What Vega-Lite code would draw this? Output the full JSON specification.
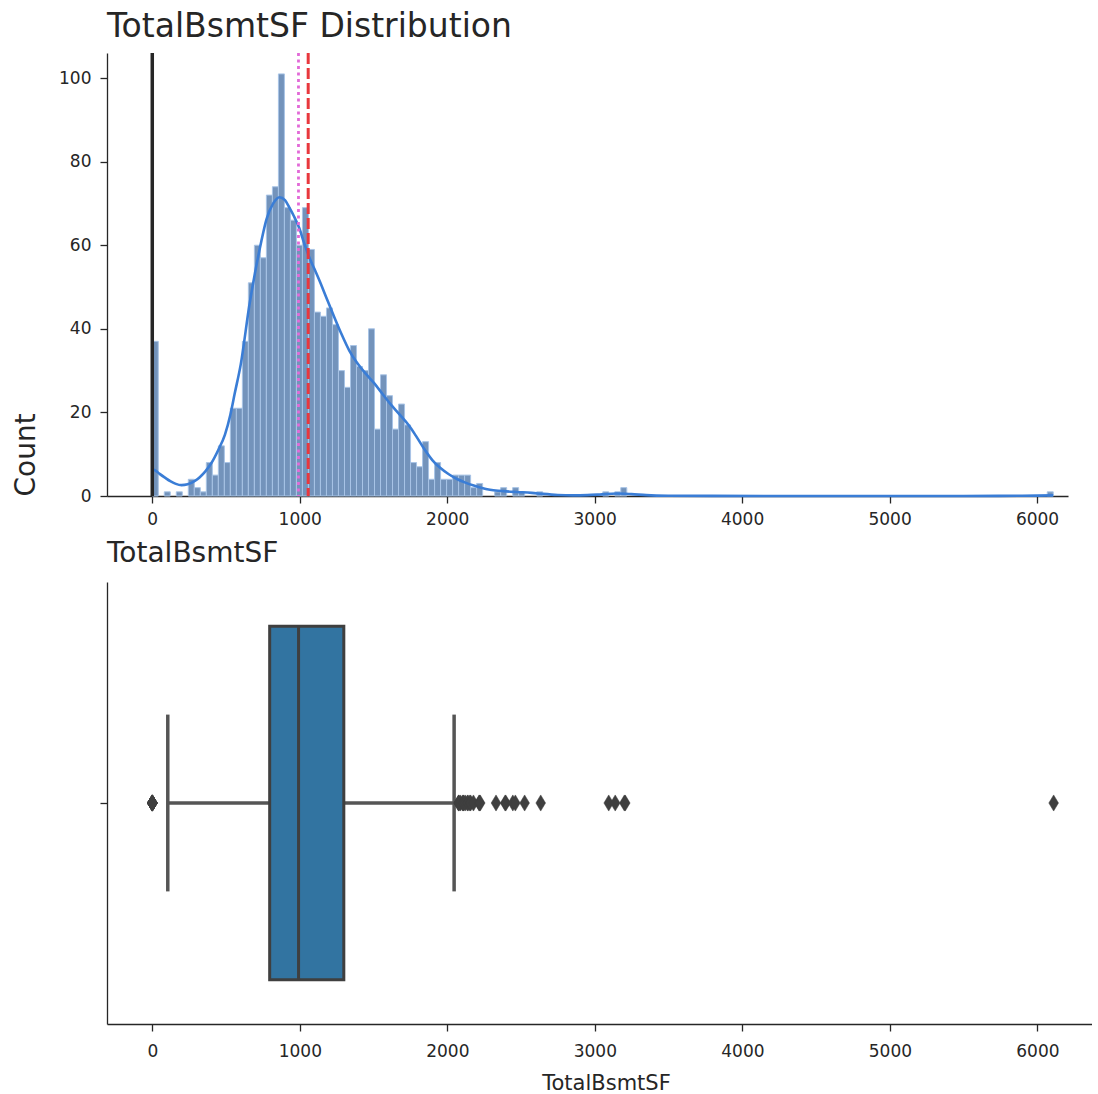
{
  "$schema": "https://vega.github.io/schema/vega-lite/v6.json",
  "background": "white",
  "padding": {"left": 12, "top": 11, "right": 0, "bottom": 0},
  "spacing": 13,
  "config": {
    "view": {"stroke": null},
    "font": "DejaVu Sans",
    "axis": {
      "domainColor": "#262626", "domainWidth": 1.3,
      "tickColor": "#262626", "tickWidth": 1.3, "tickSize": 7,
      "labelColor": "#262626", "labelFontSize": 17, "labelFont": "DejaVu Sans",
      "labelPadding": 8, "grid": false,
      "titleFont": "DejaVu Sans", "titleFontWeight": "normal", "titleColor": "#262626"
    },
    "title": {"font": "DejaVu Sans", "fontWeight": "normal", "color": "#262626", "anchor": "start", "frame": "group"}
  },
  "datasets": {
    "hist": [
      {"start": 0, "end": 40.7, "count": 37},
      {"start": 81.5, "end": 122.2, "count": 1},
      {"start": 162.9, "end": 203.7, "count": 1},
      {"start": 244.4, "end": 285.1, "count": 4},
      {"start": 285.1, "end": 325.9, "count": 2},
      {"start": 325.9, "end": 366.6, "count": 1},
      {"start": 366.6, "end": 407.3, "count": 8},
      {"start": 407.3, "end": 448.1, "count": 5},
      {"start": 448.1, "end": 488.8, "count": 12},
      {"start": 488.8, "end": 529.5, "count": 8},
      {"start": 529.5, "end": 570.3, "count": 21},
      {"start": 570.3, "end": 611.0, "count": 21},
      {"start": 611.0, "end": 651.7, "count": 37},
      {"start": 651.7, "end": 692.5, "count": 51},
      {"start": 692.5, "end": 733.2, "count": 60},
      {"start": 733.2, "end": 773.9, "count": 57},
      {"start": 773.9, "end": 814.7, "count": 72},
      {"start": 814.7, "end": 855.4, "count": 74},
      {"start": 855.4, "end": 896.1, "count": 101},
      {"start": 896.1, "end": 936.9, "count": 69},
      {"start": 936.9, "end": 977.6, "count": 66},
      {"start": 977.6, "end": 1018.3, "count": 60},
      {"start": 1018.3, "end": 1059.1, "count": 69},
      {"start": 1059.1, "end": 1099.8, "count": 59},
      {"start": 1099.8, "end": 1140.5, "count": 44},
      {"start": 1140.5, "end": 1181.3, "count": 43},
      {"start": 1181.3, "end": 1222.0, "count": 45},
      {"start": 1222.0, "end": 1262.7, "count": 41},
      {"start": 1262.7, "end": 1303.5, "count": 30},
      {"start": 1303.5, "end": 1344.2, "count": 26},
      {"start": 1344.2, "end": 1384.9, "count": 36},
      {"start": 1384.9, "end": 1425.7, "count": 31},
      {"start": 1425.7, "end": 1466.4, "count": 30},
      {"start": 1466.4, "end": 1507.1, "count": 40},
      {"start": 1507.1, "end": 1547.9, "count": 16},
      {"start": 1547.9, "end": 1588.6, "count": 29},
      {"start": 1588.6, "end": 1629.3, "count": 24},
      {"start": 1629.3, "end": 1670.1, "count": 16},
      {"start": 1670.1, "end": 1710.8, "count": 22},
      {"start": 1710.8, "end": 1751.5, "count": 17},
      {"start": 1751.5, "end": 1792.3, "count": 8},
      {"start": 1792.3, "end": 1833.0, "count": 7},
      {"start": 1833.0, "end": 1873.7, "count": 13},
      {"start": 1873.7, "end": 1914.5, "count": 4},
      {"start": 1914.5, "end": 1955.2, "count": 8},
      {"start": 1955.2, "end": 1995.9, "count": 4},
      {"start": 1995.9, "end": 2036.7, "count": 4},
      {"start": 2036.7, "end": 2077.4, "count": 5},
      {"start": 2077.4, "end": 2118.1, "count": 5},
      {"start": 2118.1, "end": 2158.9, "count": 5},
      {"start": 2158.9, "end": 2199.6, "count": 2},
      {"start": 2199.6, "end": 2240.3, "count": 3},
      {"start": 2321.8, "end": 2362.5, "count": 1},
      {"start": 2362.5, "end": 2403.3, "count": 2},
      {"start": 2444.0, "end": 2484.7, "count": 2},
      {"start": 2484.7, "end": 2525.5, "count": 1},
      {"start": 2606.9, "end": 2647.7, "count": 1},
      {"start": 3055.0, "end": 3095.7, "count": 1},
      {"start": 3136.5, "end": 3177.2, "count": 1},
      {"start": 3177.2, "end": 3217.9, "count": 2},
      {"start": 6069.3, "end": 6110.0, "count": 1}
    ],
    "kde": [
      {"x": 0, "y": 6.5}, {"x": 25, "y": 6.0}, {"x": 50, "y": 5.3}, {"x": 86, "y": 4.4},
      {"x": 125, "y": 3.5}, {"x": 160, "y": 2.9}, {"x": 198, "y": 2.6}, {"x": 240, "y": 2.8},
      {"x": 289, "y": 3.6}, {"x": 322, "y": 4.5}, {"x": 360, "y": 5.9}, {"x": 401, "y": 7.9},
      {"x": 450, "y": 11.2}, {"x": 493, "y": 14.7}, {"x": 530, "y": 19.5}, {"x": 559, "y": 24.5},
      {"x": 600, "y": 31.5}, {"x": 660, "y": 46}, {"x": 700, "y": 54}, {"x": 740, "y": 61},
      {"x": 773, "y": 66}, {"x": 820, "y": 70}, {"x": 863, "y": 71.5}, {"x": 900, "y": 70.8},
      {"x": 930, "y": 69}, {"x": 960, "y": 67}, {"x": 998, "y": 64}, {"x": 1030, "y": 60.5},
      {"x": 1066, "y": 57}, {"x": 1100, "y": 54.3}, {"x": 1133, "y": 51.6}, {"x": 1180, "y": 47.5},
      {"x": 1225, "y": 43.6}, {"x": 1280, "y": 39}, {"x": 1336, "y": 34.8}, {"x": 1390, "y": 31.8},
      {"x": 1449, "y": 29.2}, {"x": 1500, "y": 27.2}, {"x": 1562, "y": 24.4}, {"x": 1620, "y": 21.8},
      {"x": 1675, "y": 19.6}, {"x": 1742, "y": 16.8}, {"x": 1786, "y": 14.5}, {"x": 1840, "y": 11.5},
      {"x": 1899, "y": 8.6}, {"x": 1950, "y": 6.8}, {"x": 2011, "y": 5.2}, {"x": 2070, "y": 4.0},
      {"x": 2124, "y": 3.2}, {"x": 2180, "y": 2.5}, {"x": 2236, "y": 1.9}, {"x": 2290, "y": 1.5},
      {"x": 2348, "y": 1.25}, {"x": 2400, "y": 1.1}, {"x": 2470, "y": 0.95}, {"x": 2573, "y": 0.75},
      {"x": 2650, "y": 0.5}, {"x": 2750, "y": 0.25}, {"x": 2850, "y": 0.15}, {"x": 2950, "y": 0.2},
      {"x": 3050, "y": 0.4}, {"x": 3150, "y": 0.6}, {"x": 3250, "y": 0.45}, {"x": 3350, "y": 0.2},
      {"x": 3500, "y": 0.06}, {"x": 3800, "y": 0.02}, {"x": 4500, "y": 0.01}, {"x": 5500, "y": 0.01},
      {"x": 5900, "y": 0.05}, {"x": 6000, "y": 0.1}, {"x": 6110, "y": 0.16}
    ],
    "box": [
      {"lower": 105, "q1": 795.75, "median": 991.5, "q3": 1298.25, "upper": 2046}
    ],
    "outliers": [
      {"value": 0}, {"value": 0}, {"value": 0}, {"value": 0}, {"value": 0}, {"value": 0},
      {"value": 0}, {"value": 0}, {"value": 0}, {"value": 0}, {"value": 0}, {"value": 0},
      {"value": 2076}, {"value": 2077}, {"value": 2078}, {"value": 2089},
      {"value": 2104}, {"value": 2109}, {"value": 2110}, {"value": 2121}, {"value": 2136},
      {"value": 2140}, {"value": 2153}, {"value": 2158}, {"value": 2177}, {"value": 2216},
      {"value": 2217}, {"value": 2223}, {"value": 2330}, {"value": 2392}, {"value": 2396},
      {"value": 2444}, {"value": 2461}, {"value": 2524}, {"value": 2633}, {"value": 3094},
      {"value": 3138}, {"value": 3200}, {"value": 3206}, {"value": 6110}
    ]
  },
  "vconcat": [
    {
      "width": 961,
      "height": 443,
      "title": {"text": "TotalBsmtSF Distribution", "fontSize": 33, "offset": 7},
      "layer": [
        {
          "data": {"name": "hist"},
          "mark": {"type": "rect", "fill": "#7393bb", "stroke": "#a8c4e6", "strokeWidth": 1},
          "encoding": {
            "x": {"field": "start", "type": "quantitative", "title": null,
                  "scale": {"domain": [-307, 6210], "nice": false, "zero": false},
                  "axis": {"values": [0, 1000, 2000, 3000, 4000, 5000, 6000], "format": "d", "labelFlush": false}},
            "x2": {"field": "end"},
            "y": {"field": "count", "type": "quantitative", "title": "Count",
                  "scale": {"domain": [0, 106], "nice": false},
                  "axis": {"values": [0, 20, 40, 60, 80, 100], "labelPadding": 9, "titleFontSize": 28, "titlePadding": 18, "titleAnchor": "start"}},
            "y2": {"datum": 0}
          }
        },
        {
          "data": {"name": "kde"},
          "mark": {"type": "line", "color": "#3a7dd6", "strokeWidth": 2.6, "interpolate": "monotone"},
          "encoding": {
            "x": {"field": "x", "type": "quantitative", "title": null},
            "y": {"field": "y", "type": "quantitative", "title": "Count"}
          }
        },
        {
          "data": {"values": [{"value": 0}]},
          "mark": {"type": "rule", "color": "#262626", "strokeWidth": 3.5},
          "encoding": {"x": {"field": "value", "type": "quantitative", "title": null}}
        },
        {
          "data": {"values": [{"value": 991.5}]},
          "mark": {"type": "rule", "color": "#e26ad8", "strokeWidth": 2.8, "strokeDash": [3, 3.5]},
          "encoding": {"x": {"field": "value", "type": "quantitative", "title": null}}
        },
        {
          "data": {"values": [{"value": 1057.4}]},
          "mark": {"type": "rule", "color": "#e8383d", "strokeWidth": 3, "strokeDash": [11, 4]},
          "encoding": {"x": {"field": "value", "type": "quantitative", "title": null}}
        }
      ]
    },
    {
      "width": 985,
      "height": 442,
      "title": {"text": "TotalBsmtSF", "fontSize": 28, "offset": 14},
      "layer": [
        {
          "data": {"name": "box"},
          "mark": {"type": "rule", "color": "#555555", "strokeWidth": 3.5},
          "encoding": {
            "x": {"field": "lower", "type": "quantitative", "title": "TotalBsmtSF",
                  "scale": {"domain": [-307, 6370], "nice": false, "zero": false},
                  "axis": {"values": [0, 1000, 2000, 3000, 4000, 5000, 6000], "format": "d", "labelPadding": 12, "titleFontSize": 21, "titlePadding": 13, "titleX": 499, "labelFlush": false}},
            "x2": {"field": "q1"},
            "y": {"datum": 0, "type": "quantitative", "title": null,
                  "scale": {"domain": [-0.5, 0.5], "nice": false},
                  "axis": {"values": [0], "labels": false}}
          }
        },
        {
          "data": {"name": "box"},
          "mark": {"type": "rule", "color": "#555555", "strokeWidth": 3.5},
          "encoding": {
            "x": {"field": "q3", "type": "quantitative", "title": "TotalBsmtSF"},
            "x2": {"field": "upper"},
            "y": {"datum": 0, "type": "quantitative"}
          }
        },
        {
          "data": {"name": "box"},
          "mark": {"type": "rule", "color": "#555555", "strokeWidth": 3.5},
          "encoding": {
            "x": {"field": "lower", "type": "quantitative", "title": "TotalBsmtSF"},
            "y": {"datum": -0.2, "type": "quantitative"},
            "y2": {"datum": 0.2}
          }
        },
        {
          "data": {"name": "box"},
          "mark": {"type": "rule", "color": "#555555", "strokeWidth": 3.5},
          "encoding": {
            "x": {"field": "upper", "type": "quantitative", "title": "TotalBsmtSF"},
            "y": {"datum": -0.2, "type": "quantitative"},
            "y2": {"datum": 0.2}
          }
        },
        {
          "data": {"name": "box"},
          "mark": {"type": "rect", "fill": "#3274a1", "stroke": "#3f3f3f", "strokeWidth": 3},
          "encoding": {
            "x": {"field": "q1", "type": "quantitative", "title": "TotalBsmtSF"},
            "x2": {"field": "q3"},
            "y": {"datum": -0.4, "type": "quantitative"},
            "y2": {"datum": 0.4}
          }
        },
        {
          "data": {"name": "box"},
          "mark": {"type": "rule", "color": "#3f3f3f", "strokeWidth": 3},
          "encoding": {
            "x": {"field": "median", "type": "quantitative", "title": "TotalBsmtSF"},
            "y": {"datum": -0.4, "type": "quantitative"},
            "y2": {"datum": 0.4}
          }
        },
        {
          "data": {"name": "outliers"},
          "mark": {"type": "point", "shape": "M0,-1L0.6,0L0,1L-0.6,0Z", "filled": true, "fill": "#3f3f3f", "stroke": "#3f3f3f", "strokeWidth": 0.5, "opacity": 1, "size": 260},
          "encoding": {
            "x": {"field": "value", "type": "quantitative", "title": "TotalBsmtSF"},
            "y": {"datum": 0, "type": "quantitative"}
          }
        }
      ]
    }
  ]
}
